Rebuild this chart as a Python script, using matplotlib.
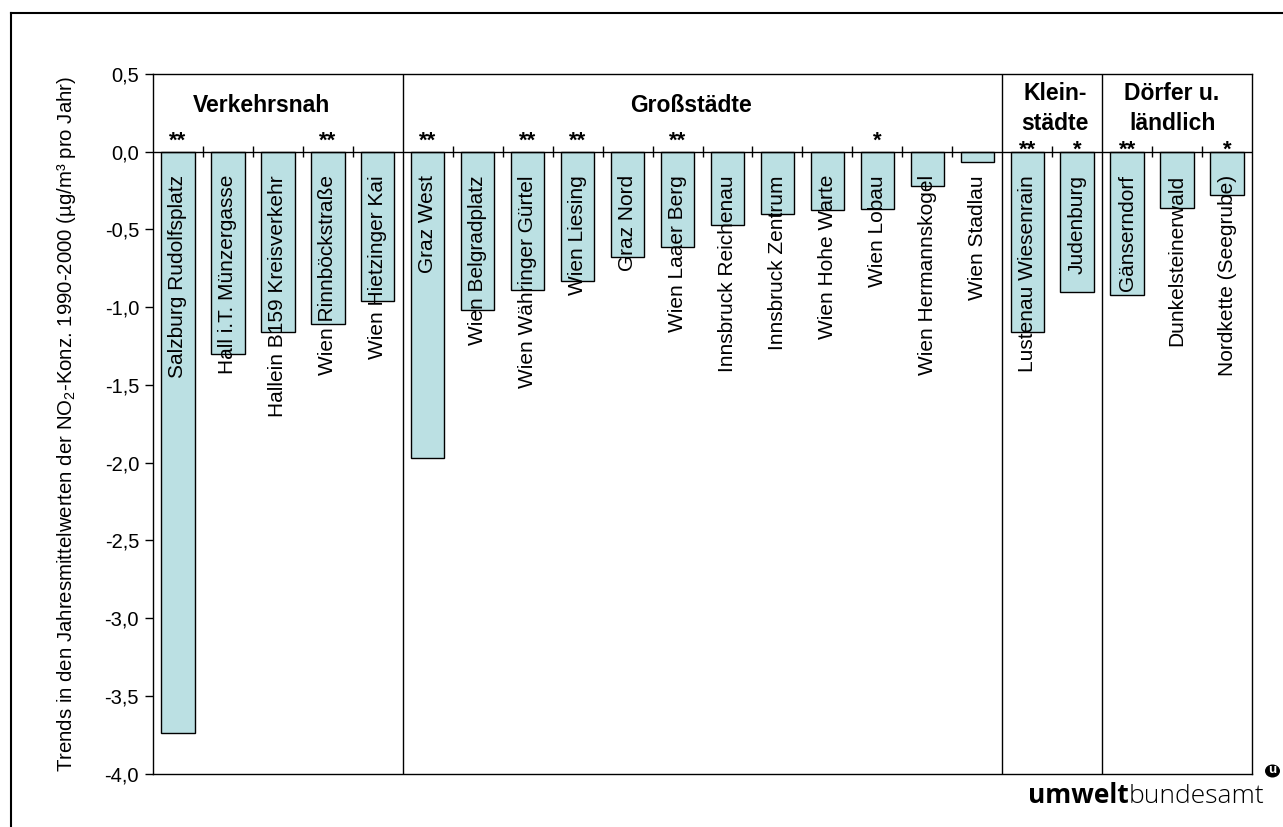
import matplotlib
matplotlib.use("Agg")
import matplotlib.pyplot as plt
import numpy as np
from matplotlib.patches import Ellipse

plt.rcParams['font.family'] = ['Liberation Sans', 'DejaVu Sans']
plt.rcParams['mathtext.fontset'] = 'custom'
plt.rcParams['mathtext.rm'] = 'Liberation Sans'
plt.rcParams['mathtext.it'] = 'Liberation Sans:italic'
plt.rcParams['mathtext.bf'] = 'Liberation Sans:bold'

stations = ["Salzburg Rudolfsplatz", "Hall i.T. Münzergasse", "Hallein B159 Kreisverkehr",
            "Wien Rinnböckstraße", "Wien Hietzinger Kai",
            "Graz West", "Wien Belgradplatz", "Wien Währinger Gürtel", "Wien Liesing",
            "Graz Nord", "Wien Laaer Berg", "Innsbruck Reichenau", "Innsbruck Zentrum",
            "Wien Hohe Warte", "Wien Lobau", "Wien Hermannskogel", "Wien Stadlau",
            "Lustenau Wiesenrain", "Judenburg",
            "Gänserndorf", "Dunkelsteinerwald", "Nordkette (Seegrube)"]
trends = [-3.74, -1.30, -1.16, -1.11, -0.96,
          -1.97, -1.02, -0.89, -0.83, -0.675, -0.61, -0.47, -0.40, -0.375, -0.37, -0.22, -0.066,
          -1.16, -0.90,
          -0.92, -0.36, -0.28]
significance = ["**", "", "", "**", "",
                "**", "", "**", "**", "", "**", "", "", "", "*", "", "",
                "**", "*",
                "**", "", "*"]
group_names = ["Verkehrsnah", "Großstädte", "Klein-\nstädte", "Dörfer u.\nländlich"]
group_sizes = [5, 12, 2, 3]
yticks = [0.5, 0.0, -0.5, -1.0, -1.5, -2.0, -2.5, -3.0, -3.5, -4.0]

W, H = 1283, 827
fig = plt.figure(figsize=(W / 100, H / 100), dpi=100)
ax = fig.add_axes([153 / W, 1 - 773.5 / H, (1252 - 153) / W, (773.5 - 74) / H])

n = len(stations)
x = np.arange(n)
ax.bar(x, trends, width=0.667, color='#BBE0E3', edgecolor='black', linewidth=1.0, zorder=2)

ax.set_xlim(-0.5, n - 0.5)
ax.set_ylim(-4.0, 0.5)
ax.set_xticks([])
ax.set_yticks(yticks)
ax.set_yticklabels([f"{v:.1f}".replace('.', ',') for v in yticks], fontsize=14.5)
ax.tick_params(axis='y', direction='out', length=6, width=1, pad=4, colors='black')
for s in ax.spines.values():
    s.set_linewidth(1.0)
    s.set_color('black')

# zero line and its tick marks
ax.axhline(0, color='black', linewidth=1.0, zorder=3)
bounds = np.cumsum(group_sizes)[:-1] - 0.5
for b in bounds:
    ax.axvline(b, color='black', linewidth=1.0, zorder=3)
tick_pos = [p for p in np.arange(0.5, n - 0.5, 1.0) if not np.any(np.isclose(p, bounds))]
ax.vlines(tick_pos, -0.035, 0.035, color='black', linewidth=1.0, zorder=3)

# bar labels
for xi, name in zip(x, stations):
    ax.text(xi, -0.150, name, rotation=90, ha='center', va='top', fontsize=15, zorder=4)

# significance stars
starts = np.concatenate([[0], np.cumsum(group_sizes)])
for xi, sig in zip(x, significance):
    if not sig:
        continue
    yb = 0.035 if xi < starts[2] else -0.025
    ax.text(xi, yb, sig, ha='center', va='baseline', fontsize=16, fontweight='bold', zorder=4)

# group headers
header_x = [1.68, 10.26, 17.56, 19.9]
header_y = [0.30, 0.30, 0.28, 0.28]
for hx, hy, g in zip(header_x, header_y, group_names):
    ax.text(hx, hy, g, ha='center', va='center', fontsize=16.5, fontweight='bold',
            linespacing=1.4, multialignment='center')

# y label
fig.text(67 / W, 1 - 424 / H,
         r"Trends in den Jahresmittelwerten der NO$_\mathregular{2}$-Konz. 1990-2000 (µg/m³ pro Jahr)",
         rotation=90, ha='center', va='center', fontsize=14.7)

# outer frame
fig.add_artist(plt.Line2D([10.5 / W, 10.5 / W], [0, 1 - 13 / H], transform=fig.transFigure,
                          color='black', linewidth=1.5))
fig.add_artist(plt.Line2D([10.5 / W, 1], [1 - 13 / H, 1 - 13 / H], transform=fig.transFigure,
                          color='black', linewidth=1.5))

# logo
t1 = fig.text(1028 / W, 1 - 803 / H, "umwelt", fontsize=19, fontweight='bold',
              family=['Open Sans', 'DejaVu Sans'], ha='left', va='baseline')
fig.canvas.draw()
bb = t1.get_window_extent()
t2 = fig.text(bb.x1 / W, 1 - 803 / H, "bundesamt", fontsize=19, fontweight='light',
              family=['Open Sans', 'DejaVu Sans'], ha='left', va='baseline')
fig.canvas.draw()
bb2 = t2.get_window_extent()
cx, cy = bb2.x1 / W + 8 / W, 1 - 771 / H
fig.add_artist(Ellipse((cx, cy), 15 / W, 13 / H, transform=fig.transFigure,
                       facecolor='black', edgecolor='none'))
fig.text(cx, cy + 1 / H, "u", color='white', fontsize=9.5, fontweight='bold',
         ha='center', va='center')

fig.savefig("out.png", dpi=100)
